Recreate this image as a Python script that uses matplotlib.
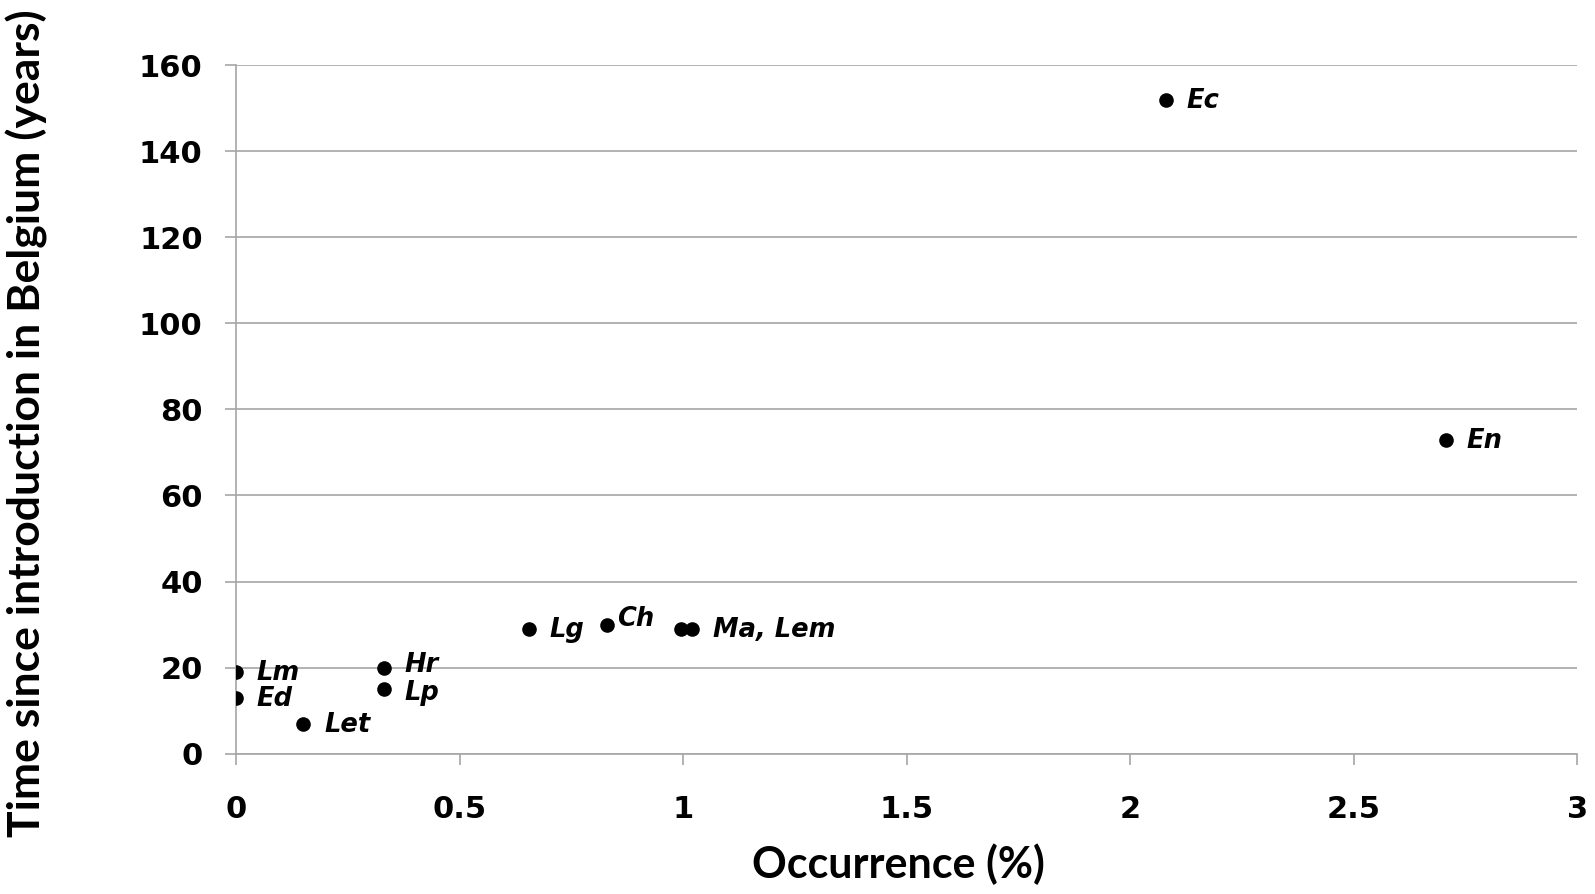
import matplotlib.pyplot as plt

# dados
especies = ['Lm', 'Ed', 'Let', 'Hr', 'Lp', 'Lg', 'Ch', 'Ma', 'Lem', 'Ec', 'En']
ocorrencia = [0.0, 0.0, 0.15, 0.33, 0.33, 0.655, 0.83, 0.995, 1.02, 2.08, 2.705]
anos = [19, 13, 7, 20, 15, 29, 30, 29, 29, 152, 73]
rotulos = ['Lm', 'Ed', 'Let', 'Hr', 'Lp', 'Lg', 'Ch', '', 'Ma, Lem', 'Ec', 'En']

xticks = [0, 0.5, 1, 1.5, 2, 2.5, 3]
xtick_labels = ['0', '0.5', '1', '1.5', '2', '2.5', '3']
yticks = [0, 20, 40, 60, 80, 100, 120, 140, 160]

fig = plt.figure(figsize=(15.95, 8.94), dpi=100)
ax = fig.add_axes([0.148, 0.157, 0.841, 0.770])

ax.scatter(ocorrencia, anos, s=90, color='black', zorder=3)

# deslocamento de alguns rotulos para nao se sobreporem
desloc = {'Ch': (7, 4), 'Hr': (15, 2), 'Lp': (15, -3)}
for x, y, r in zip(ocorrencia, anos, rotulos):
    if not r:
        continue
    off = desloc.get(r, (15, -1))
    ax.annotate(r, (x, y), xytext=off, textcoords='offset points',
                va='center', ha='left', fontsize=18.5, fontweight='bold',
                fontstyle='italic', family='DejaVu Sans')

ax.set_xlim(0, 3)
ax.set_ylim(0, 160)
ax.set_xticks(xticks)
ax.set_xticklabels(xtick_labels)
ax.set_yticks(yticks)
ax.yaxis.grid(True, color='#a6a6a6', linewidth=1.2)
ax.set_axisbelow(True)

for s in ['top', 'right']:
    ax.spines[s].set_visible(False)
for s in ['left', 'bottom']:
    ax.spines[s].set_color('#a6a6a6')
    ax.spines[s].set_linewidth(1.2)

ax.tick_params(axis='x', direction='out', length=8, width=1.2, color='#a6a6a6', pad=22)
ax.tick_params(axis='y', direction='out', length=8, width=1.2, color='#a6a6a6', pad=16)
for lab in ax.get_xticklabels() + ax.get_yticklabels():
    lab.set_fontsize(22)
    lab.set_fontweight('bold')
    lab.set_family('DejaVu Sans')

ax.set_xlabel('Occurrence (%)', fontsize=31, fontweight='bold', family='Lato')
ax.xaxis.label.set_va('center')
ax.xaxis.set_label_coords(0.494, -0.16)
ax.set_ylabel('Time since introduction in Belgium (years)', fontsize=32,
              fontweight='bold', family='Lato')
ax.yaxis.label.set_va('center')
ax.yaxis.set_label_coords(-0.156, 0.48)

fig.savefig('out.png', dpi=100, facecolor='white')
